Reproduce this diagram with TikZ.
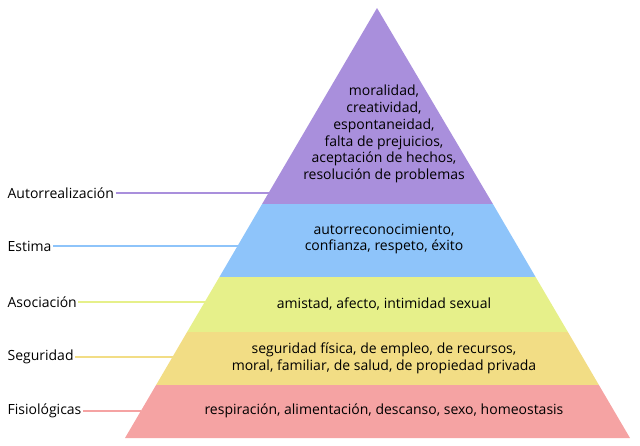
\documentclass[tikz,border=0pt]{standalone}
\usepackage{fontspec}
\setmainfont{Open Sans}
\begin{document}
\begin{tikzpicture}[x=0.75pt,y=-0.75pt,
  lbl/.style={anchor=west,inner xsep=1pt,font=\fontsize{10.5pt}{12pt}\selectfont},
  txt/.style={align=center,font=\fontsize{10.5pt}{12.6pt}\selectfont},
  conn/.style={line width=2.2pt}]
\definecolor{cpur}{HTML}{A98FDC}
\definecolor{cblu}{HTML}{8EC4FA}
\definecolor{cgre}{HTML}{E6F08A}
\definecolor{cyel}{HTML}{F2DD85}
\definecolor{cpin}{HTML}{F5A3A3}
\useasboundingbox (0,0) rectangle (640,446);
\fill[cpur] (377,8) -- (262.1,204) -- (492.9,204) -- cycle;
\fill[cblu] (262.1,204) -- (219.4,277) -- (535.6,277) -- (492.9,204) -- cycle;
\fill[cgre] (219.4,277) -- (187.1,332) -- (567.9,332) -- (535.6,277) -- cycle;
\fill[cyel] (187.1,332) -- (156.1,385) -- (598.9,385) -- (567.9,332) -- cycle;
\fill[cpin] (156.1,385) -- (125,438) -- (630,438) -- (598.9,385) -- cycle;
\node[txt] (t1) at (384,134) {moralidad,\\creatividad,\\espontaneidad,\\falta de prejuicios,\\aceptación de hechos,\\resolución de problemas};
\node[txt] (t2) at (384,239) {autorreconocimiento,\\confianza, respeto, éxito};
\node[txt] (t3) at (384,304) {amistad, afecto, intimidad sexual};
\node[txt] (t4) at (384,358) {seguridad física, de empleo, de recursos,\\moral, familiar, de salud, de propiedad privada};
\node[txt] (t5) at (384,411) {respiración, alimentación, descanso, sexo, homeostasis};
\node[lbl] (l1) at (6,193) {Autorrealización};
\node[lbl] (l2) at (6,246) {Estima};
\node[lbl] (l3) at (6,302) {Asociación};
\node[lbl] (l4) at (6,357) {Seguridad};
\node[lbl] (l5) at (6,411) {Fisiológicas};
\coordinate (e1) at (269,193);
\coordinate (e2) at (238,246);
\coordinate (e3) at (205,302);
\coordinate (e4) at (173,357);
\coordinate (e5) at (141,411);
\draw[conn,cpur] (l1.east) -- (e1);
\draw[conn,cblu] (l2.east) -- (e2);
\draw[conn,cgre] (l3.east) -- (e3);
\draw[conn,cyel] (l4.east) -- (e4);
\draw[conn,cpin] (l5.east) -- (e5);
\end{tikzpicture}
\end{document}
